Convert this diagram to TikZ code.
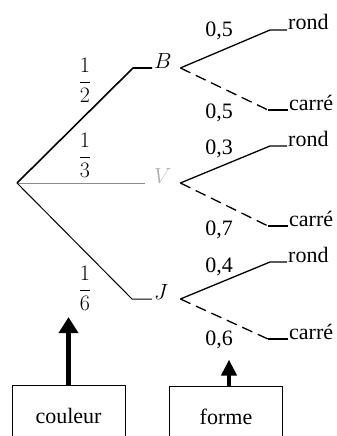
\RequirePackage{fix-cm}
\documentclass[tikz,border=0pt]{standalone}
\usepackage[no-math]{fontspec}
\setmainfont{Liberation Serif}
\usetikzlibrary{arrows.meta}

\tikzset{
  lvl/.style={anchor=base west, inner xsep=2pt, inner ysep=0pt, text width=24pt},
  leaf/.style={anchor=base west, inner sep=1pt},
  prob/.style={anchor=base, inner sep=0pt},
  box/.style={draw, line width=1pt, anchor=north, minimum width=113pt, inner ysep=0pt, text height=38pt, text depth=30pt},
  branch/.style={line width=1.3pt},
  dbranch/.style={line width=1.3pt, dash pattern=on 11pt off 6pt},
  bigarrow/.style={line width=5pt, -{Triangle[width=19pt,length=16pt]}},
}

\begin{document}
\begin{tikzpicture}[x=1pt, y=-1pt, every node/.style={font=\fontsize{22}{26}\selectfont}]
\useasboundingbox (0,0) rectangle (337,436);

% first level
\coordinate (root) at (17,183);
\node[lvl] (B) at (152,68) {$B$};
\node[lvl, text=black!30] (V) at (152,183) {$V$};
\node[lvl] (J) at (152,299) {$J$};

\draw[line width=1.6pt] (root) -- ([xshift=-19pt]B.base west) -- (B.base west);
\draw[black!45, line width=0.8pt] (root) -- ([xshift=-7pt]V.base west);
\draw[line width=1pt] (root) -- ([xshift=-20pt]J.base west) -- (J.base west);

\node (f12) at (85,80.5) {$\displaystyle\frac{1}{2}$};
\node (f13) at (85,155.5) {$\displaystyle\frac{1}{3}$};
\node (f16) at (85,288.5) {$\displaystyle\frac{1}{6}$};

% second level
\node[leaf] (rB) at (287,30) {rond};
\node[leaf] (cB) at (288,110) {carré};
\node[leaf] (rV) at (287,146) {rond};
\node[leaf] (cV) at (288,226) {carré};
\node[leaf] (rJ) at (287,262) {rond};
\node[leaf] (cJ) at (288,339) {carré};

\draw[branch] (B.base east) -- ([xshift=-17pt]rB.base west) -- (rB.base west);
\draw[dbranch] (B.base east) -- ([xshift=-20pt]cB.base west);
\draw[branch] ([xshift=-20pt]cB.base west) -- (cB.base west);

\draw[branch] (V.base east) -- ([xshift=-17pt]rV.base west) -- (rV.base west);
\draw[dbranch] (V.base east) -- ([xshift=-20pt]cV.base west);
\draw[branch] ([xshift=-20pt]cV.base west) -- (cV.base west);

\draw[branch] (J.base east) -- ([xshift=-17pt]rJ.base west) -- (rJ.base west);
\draw[dbranch] (J.base east) -- ([xshift=-20pt]cJ.base west);
\draw[branch] ([xshift=-20pt]cJ.base west) -- (cJ.base west);

\node[prob] (pB1) at (219,37) {0,5};
\node[prob] (pB2) at (219,118) {0,5};
\node[prob] (pV1) at (219,154) {0,3};
\node[prob] (pV2) at (219,235) {0,7};
\node[prob] (pJ1) at (219,272) {0,4};
\node[prob] (pJ2) at (219,345) {0,6};

% boxes
\node[box] (couleur) at (68.5,385) {couleur};
\node[box] (forme) at (226,386) {forme};

\draw[bigarrow, shorten >=3pt] (couleur.north) -- (couleur.north |- f16.south);
\draw[line width=4pt, -{Triangle[width=15pt,length=16pt]}, shorten >=11pt] ([xshift=3pt]forme.north) -- ([xshift=3pt]forme.north |- pJ2.south);

\end{tikzpicture}
\end{document}
